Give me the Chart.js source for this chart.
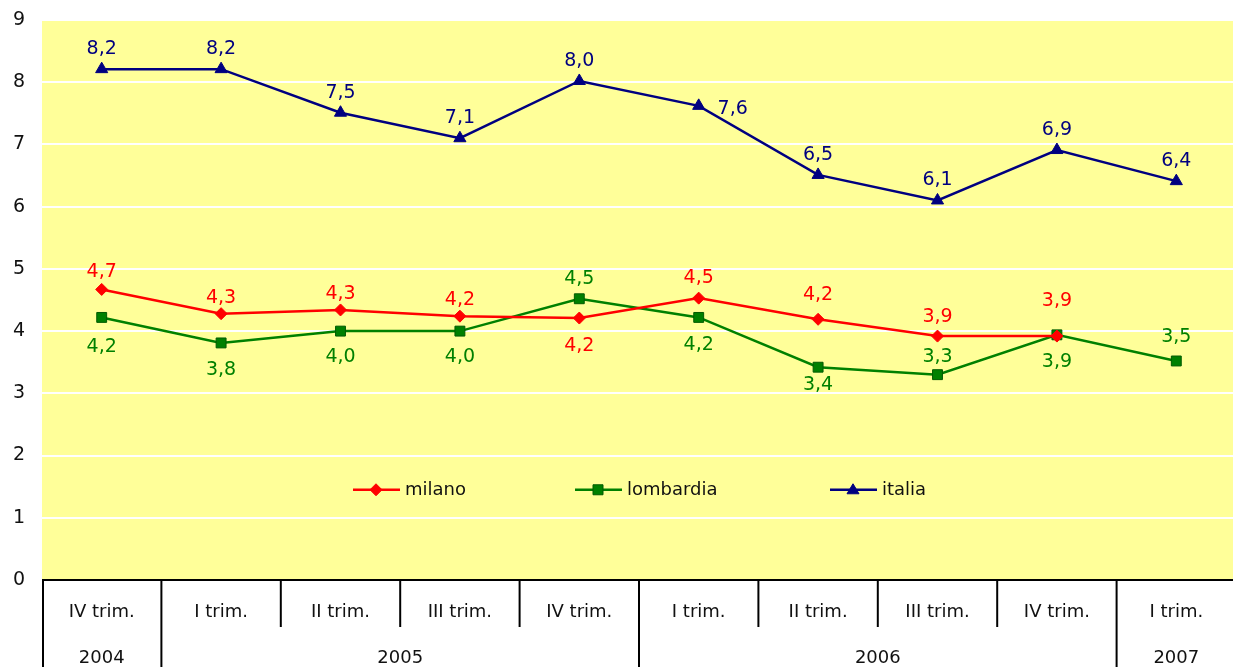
<!DOCTYPE html>
<html lang="it">
<head>
<meta charset="utf-8">
<title>milano, lombardia, italia</title>
<script src="https://cdn.jsdelivr.net/npm/chart.js"></script>
<style>
  html, body { margin: 0; padding: 0; background: #fff; overflow: hidden; }
  #cornice { width: 1233px; height: 667px; overflow: hidden; }
  #grafico { display: block; }
</style>
</head>
<body>
<div id="cornice">
<canvas id="grafico" width="1244" height="667" style="width:1244px;height:667px"></canvas>
</div>
<script>
// Dati
const trimestri = ['IV trim.', 'I trim.', 'II trim.', 'III trim.', 'IV trim.', 'I trim.', 'II trim.', 'III trim.', 'IV trim.', 'I trim.'];
const anni = ['2004', '2005', '2006', '2007'];
const trimestriPerAnno = [1, 4, 4, 1];

const milano = [4.67, 4.28, 4.34, 4.24, 4.21, 4.53, 4.19, 3.92, 3.92];
const lombardia = [4.22, 3.81, 4.0, 4.0, 4.52, 4.22, 3.42, 3.30, 3.94, 3.52];
const italia = [8.21, 8.21, 7.51, 7.1, 8.02, 7.62, 6.51, 6.1, 6.91, 6.41];

const tickY = [0, 1, 2, 3, 4, 5, 6, 7, 8, 9];

(() => {
  'use strict'

  const FONT = '"DejaVu Sans", Verdana, sans-serif';

  // spostamento delle etichette rispetto al punto [dx, dy]
  const SU = [0, -20];
  const GIU = [0, 28];
  const posMilano = [[0, -17], [0, -16], [0, -16], [0, -16], GIU, SU, [0, -24], [0, -19], [0, -35]];
  const posLombardia = [[0, 30], [0, 27], [0, 26], [0, 26], SU, GIU, [0, 18], [0, -18], [0, 27], [0, -24]];
  const posItalia = [SU, SU, SU, SU, SU, [34, 3], SU, SU, SU, SU];

  function disegnaSimbolo(ctx, stile, x, y, colore, bordo) {
    ctx.save();
    ctx.fillStyle = colore;
    ctx.strokeStyle = bordo;
    ctx.lineWidth = 1;
    ctx.beginPath();
    if (stile === 'rectRot') {
      ctx.moveTo(x, y - 6); ctx.lineTo(x + 6, y); ctx.lineTo(x, y + 6); ctx.lineTo(x - 6, y);
    } else if (stile === 'rect') {
      ctx.rect(x - 5, y - 5, 10, 10);
    } else {
      ctx.moveTo(x, y - 6); ctx.lineTo(x + 6, y + 4); ctx.lineTo(x - 6, y + 4);
    }
    ctx.closePath();
    ctx.fill();
    ctx.stroke();
    ctx.restore();
  }

  const pluginTabella = {
    id: 'tabella',
    beforeDraw(chart) {
      const { ctx, chartArea } = chart;
      ctx.save();
      ctx.fillStyle = '#FFFF99';
      ctx.fillRect(chartArea.left, chartArea.top, chartArea.right - chartArea.left, chartArea.bottom - chartArea.top);
      ctx.restore();
    },
    afterDatasetsDraw(chart) {
      const ctx = chart.ctx;
      ctx.save();
      ctx.font = '19px ' + FONT;
      ctx.textAlign = 'center';
      ctx.textBaseline = 'middle';
      chart.data.datasets.forEach((ds, i) => {
        const meta = chart.getDatasetMeta(i);
        meta.data.forEach((el, j) => {
          const v = ds.data[j];
          if (v == null) return;
          const off = ds.posEtichette[j] || SU;
          ctx.fillStyle = ds.borderColor;
          ctx.fillText(v.toFixed(1).replace('.', ','), el.x + off[0], el.y + off[1]);
        });
      });
      ctx.restore();
    },
    afterDraw(chart) {
      const { ctx, chartArea } = chart;
      const x = chart.scales.x;
      const y = chart.scales.y;
      const fondo = chart.height;
      const riga1 = chartArea.bottom + 47;
      ctx.save();

      // etichette asse verticale
      ctx.fillStyle = '#111';
      ctx.font = '19px ' + FONT;
      ctx.textAlign = 'right';
      ctx.textBaseline = 'middle';
      tickY.forEach(v => ctx.fillText(String(v), 25, y.getPixelForValue(v)));

      ctx.strokeStyle = '#000';
      ctx.lineWidth = 2;

      // asse orizzontale
      ctx.beginPath();
      ctx.moveTo(chartArea.left, chartArea.bottom);
      ctx.lineTo(chartArea.right, chartArea.bottom);
      ctx.stroke();

      // bordo sinistro
      ctx.beginPath();
      ctx.moveTo(chartArea.left + 1, chartArea.bottom);
      ctx.lineTo(chartArea.left + 1, fondo);
      ctx.stroke();

      // separatori tra trimestri e anni
      const confini = [];
      let c = 0;
      trimestriPerAnno.forEach(n => { c += n; confini.push(c); });
      for (let i = 1; i < trimestri.length; i++) {
        const xs = (x.getPixelForValue(i - 1) + x.getPixelForValue(i)) / 2;
        ctx.beginPath();
        ctx.moveTo(xs, chartArea.bottom);
        ctx.lineTo(xs, confini.includes(i) ? fondo : riga1);
        ctx.stroke();
      }

      ctx.font = '18px ' + FONT;
      ctx.textAlign = 'center';
      trimestri.forEach((t, i) => {
        ctx.fillText(t, x.getPixelForValue(i), chartArea.bottom + 32);
      });
      let inizio = 0;
      anni.forEach((a, k) => {
        const fine = inizio + trimestriPerAnno[k] - 1;
        const xc = (x.getPixelForValue(inizio) + x.getPixelForValue(fine)) / 2;
        ctx.fillText(a, xc, chartArea.bottom + 78);
        inizio = fine + 1;
      });

      // legenda dentro l'area del grafico
      const yLeg = y.getPixelForValue(1.45);
      const xLeg = [353, 575, 830];
      ctx.textAlign = 'left';
      chart.data.datasets.forEach((ds, i) => {
        const x0 = xLeg[i];
        ctx.strokeStyle = ds.borderColor;
        ctx.lineWidth = 2.5;
        ctx.beginPath();
        ctx.moveTo(x0, yLeg);
        ctx.lineTo(x0 + 47, yLeg);
        ctx.stroke();
        disegnaSimbolo(ctx, ds.pointStyle, x0 + 23, yLeg, ds.pointBackgroundColor, ds.pointBorderColor);
        ctx.fillStyle = '#111';
        ctx.fillText(ds.label, x0 + 52, yLeg + 1);
      });
      ctx.restore();
    }
  };

  const ctx = document.getElementById('grafico');
  const grafico = new Chart(ctx, {
    type: 'line',
    data: {
      labels: trimestri.map((t, i) => i),
      datasets: [{
        label: 'milano',
        data: milano,
        borderColor: '#FF0000',
        borderWidth: 2.5,
        pointStyle: 'rectRot',
        pointRadius: 6,
        pointBackgroundColor: '#FF0000',
        pointBorderColor: '#FF0000',
        pointBorderWidth: 1,
        posEtichette: posMilano
      }, {
        label: 'lombardia',
        data: lombardia,
        borderColor: '#008000',
        borderWidth: 2.5,
        pointStyle: 'rect',
        pointRadius: 7,
        pointBackgroundColor: '#008000',
        pointBorderColor: '#005a00',
        pointBorderWidth: 1,
        posEtichette: posLombardia
      }, {
        label: 'italia',
        data: italia,
        borderColor: '#000080',
        borderWidth: 2.5,
        pointStyle: 'triangle',
        pointRadius: 7,
        pointBackgroundColor: '#000080',
        pointBorderColor: '#000080',
        pointBorderWidth: 1,
        posEtichette: posItalia
      }]
    },
    options: {
      responsive: false,
      animation: false,
      devicePixelRatio: 1,
      layout: { padding: { top: 20, bottom: 87, left: 0, right: 0 } },
      scales: {
        x: {
          display: false,
          offset: true
        },
        y: {
          min: 0,
          max: 9,
          afterBuildTicks(scale) {
            scale.ticks = tickY.map(v => ({ value: v }));
          },
          afterFit(scale) {
            scale.width = 42;
          },
          grid: { color: '#FFFFFF', lineWidth: 2, drawTicks: false },
          border: { display: false },
          ticks: { display: false }
        }
      },
      plugins: {
        legend: { display: false },
        tooltip: { enabled: false }
      }
    },
    plugins: [pluginTabella]
  });
})()
</script>
</body>
</html>
